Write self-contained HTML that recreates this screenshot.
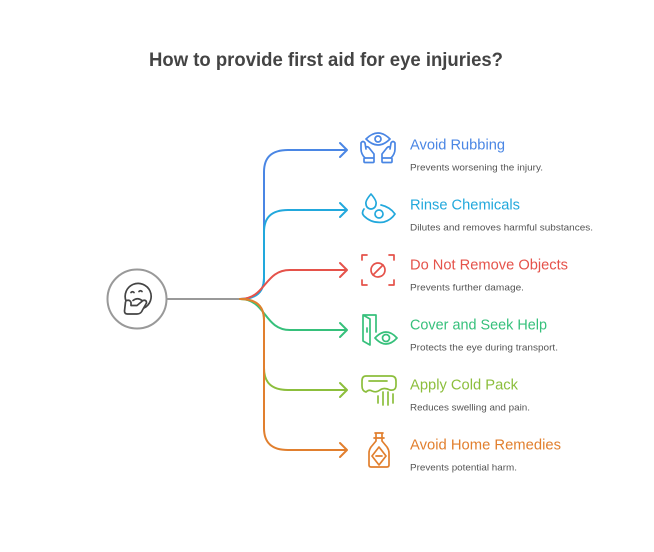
<!DOCTYPE html>
<html><head><meta charset="utf-8"><style>
html,body{margin:0;padding:0;background:#fff;}
svg{display:block;}
text{font-family:"Liberation Sans",sans-serif;}
</style></head><body>
<svg width="654" height="552" viewBox="0 0 654 552" xmlns="http://www.w3.org/2000/svg">
<rect width="654" height="552" fill="#fff"/>
<text x="149" y="66" font-size="19" font-weight="bold" fill="#444" textLength="354" lengthAdjust="spacingAndGlyphs">How to provide first aid for eye injuries?</text>

<!-- center circle -->
<circle cx="137" cy="299" r="29.5" fill="#fff" stroke="#999" stroke-width="2"/>
<g fill="none" stroke="#444" stroke-width="1.7" stroke-linecap="round" stroke-linejoin="round">
<path d="M126,301 A13,13 0 1 1 144,308"/>
<path d="M131,292.5 q1.5,-1.5 3,0"/>
<path d="M139,291.5 q1.5,-1.5 3,0"/>
<path d="M133,300.5 q4.5,-3.5 9,0"/>
<path d="M125.5,302 L124.5,311 Q124.5,314 127.5,314 L137,314 Q141,314 142.5,310 L146.5,303 Q146.5,299.5 143,300.5 L137,305.5 L131,305.5 L131,302.5 Q130,299.5 126.5,300.5"/>
</g>
<line x1="167" y1="299" x2="242" y2="299" stroke="#999" stroke-width="2"/>

<g fill="none" stroke-width="2" stroke-linecap="round" stroke-linejoin="round">
<path d="M240,299 C256,299 264,292 264,278 L264,172 C264,157 272,150 288,150 L346,150" stroke="#4a86e4"/>
<path d="M340,143 L347,150 L340,157" stroke="#4a86e4"/>
<path d="M240,299 C256,299 264,292 264,278 L264,232 C264,217 272,210 288,210 L346,210" stroke="#22a8dc"/>
<path d="M340,203 L347,210 L340,217" stroke="#22a8dc"/>
<path d="M240,299 C266,299 264,270 290,270 L346,270" stroke="#e5524a"/>
<path d="M340,263 L347,270 L340,277" stroke="#e5524a"/>
<path d="M240,299 C266,299 264,330 290,330 L346,330" stroke="#36c07b"/>
<path d="M340,323 L347,330 L340,337" stroke="#36c07b"/>
<path d="M240,299 C256,299 264,306 264,320 L264,368 C264,383 272,390 288,390 L346,390" stroke="#8cbe3c"/>
<path d="M340,383 L347,390 L340,397" stroke="#8cbe3c"/>
<path d="M240,299 C256,299 264,306 264,320 L264,428 C264,443 272,450 288,450 L346,450" stroke="#e17f2e"/>
<path d="M340,443 L347,450 L340,457" stroke="#e17f2e"/>
</g>

<!-- icons -->
<g fill="none" stroke-width="1.7" stroke-linecap="round" stroke-linejoin="round">
<!-- avoid rubbing -->
<g stroke="#4a86e4">
<path d="M366,139 Q378,127 390,139 Q378,151 366,139 Z"/>
<circle cx="378" cy="139" r="3"/>
<path d="M365,158 Q361,154 361,149 L361,143 Q363,140 365,143 L366,149 M366,147 Q368,146 370,149 L374,154 L374,158"/>
<rect x="364" y="158" width="10" height="4.5" rx="1"/>
<path d="M391,158 Q395,154 395,149 L395,143 Q393,140 391,143 L390,149 M390,147 Q388,146 386,149 L382,154 L382,158"/>
<rect x="382" y="158" width="10" height="4.5" rx="1"/>
</g>
<!-- rinse chemicals -->
<g stroke="#22a8dc">
<path d="M371,194 Q365,201 366,204 A5,5 0 0 0 376,204 Q377,201 371,194 Z"/>
<path d="M364,209 Q361,213 364,216 Q372,224 384,222 Q391,220 395,214 Q390,207 381,205"/>
<circle cx="379" cy="214" r="4"/>
</g>
<!-- do not remove -->
<g stroke="#e5524a">
<path d="M362,260 L362,255 L367,255 M389,255 L394,255 L394,260 M394,280 L394,285 L389,285 M367,285 L362,285 L362,280"/>
<circle cx="378" cy="270" r="7"/>
<line x1="373" y1="275" x2="383" y2="265"/>
</g>
<!-- cover and seek help -->
<g stroke="#36c07b">
<path d="M376,332 L376,315 L363,315 L363,341 L370,345 L370,319 L363,315"/>
<line x1="367" y1="328" x2="367" y2="332"/>
<path d="M375,338 Q386,326 397,338 Q386,350 375,338 Z"/>
<circle cx="386" cy="338" r="3.5"/>
</g>
<!-- cold pack -->
<g stroke="#8cbe3c">
<path d="M366,376 L391,376 Q396,376 396,381 L396,385 Q396,391 390,390 Q384,387 380,390 Q376,393 372,391 Q369,389 366,392 Q362,391 362,386 L362,381 Q362,376 366,376 Z"/>
<line x1="369" y1="381" x2="387" y2="381"/>
<line x1="378" y1="396" x2="378" y2="403"/>
<line x1="383" y1="392" x2="383" y2="405"/>
<line x1="388" y1="392" x2="388" y2="405"/>
<line x1="393" y1="394" x2="393" y2="403"/>
</g>
<!-- home remedies -->
<g stroke="#e17f2e">
<path d="M375,433 L383,433 M376,433 L376,441 L371,447 Q369,450 369,453 L369,465 Q369,467 371,467 L387,467 Q389,467 389,465 L389,453 Q389,450 387,447 L382,441 L382,433"/>
<line x1="374" y1="438" x2="384" y2="438"/>
<path d="M379,447 L386,456 L379,465 L372,456 Z"/>
<line x1="376" y1="456" x2="382" y2="456"/>
</g>
</g>

<!-- labels -->
<g font-size="15">
<text x="410" y="149.5" fill="#4a86e4" textLength="95" lengthAdjust="spacingAndGlyphs">Avoid Rubbing</text>
<text x="410" y="209.5" fill="#22a8dc" textLength="110" lengthAdjust="spacingAndGlyphs">Rinse Chemicals</text>
<text x="410" y="269.5" fill="#e5524a" textLength="158" lengthAdjust="spacingAndGlyphs">Do Not Remove Objects</text>
<text x="410" y="329.5" fill="#36c07b" textLength="137" lengthAdjust="spacingAndGlyphs">Cover and Seek Help</text>
<text x="410" y="389.5" fill="#8cbe3c" textLength="108" lengthAdjust="spacingAndGlyphs">Apply Cold Pack</text>
<text x="410" y="449.5" fill="#e17f2e" textLength="151" lengthAdjust="spacingAndGlyphs">Avoid Home Remedies</text>
</g>
<g font-size="9.5" fill="#555">
<text x="410" y="170.5" textLength="133" lengthAdjust="spacingAndGlyphs">Prevents worsening the injury.</text>
<text x="410" y="230.5" textLength="183" lengthAdjust="spacingAndGlyphs">Dilutes and removes harmful substances.</text>
<text x="410" y="290.5" textLength="114" lengthAdjust="spacingAndGlyphs">Prevents further damage.</text>
<text x="410" y="350.5" textLength="148" lengthAdjust="spacingAndGlyphs">Protects the eye during transport.</text>
<text x="410" y="410.5" textLength="120" lengthAdjust="spacingAndGlyphs">Reduces swelling and pain.</text>
<text x="410" y="470.5" textLength="107" lengthAdjust="spacingAndGlyphs">Prevents potential harm.</text>
</g>
</svg>
</body></html>
